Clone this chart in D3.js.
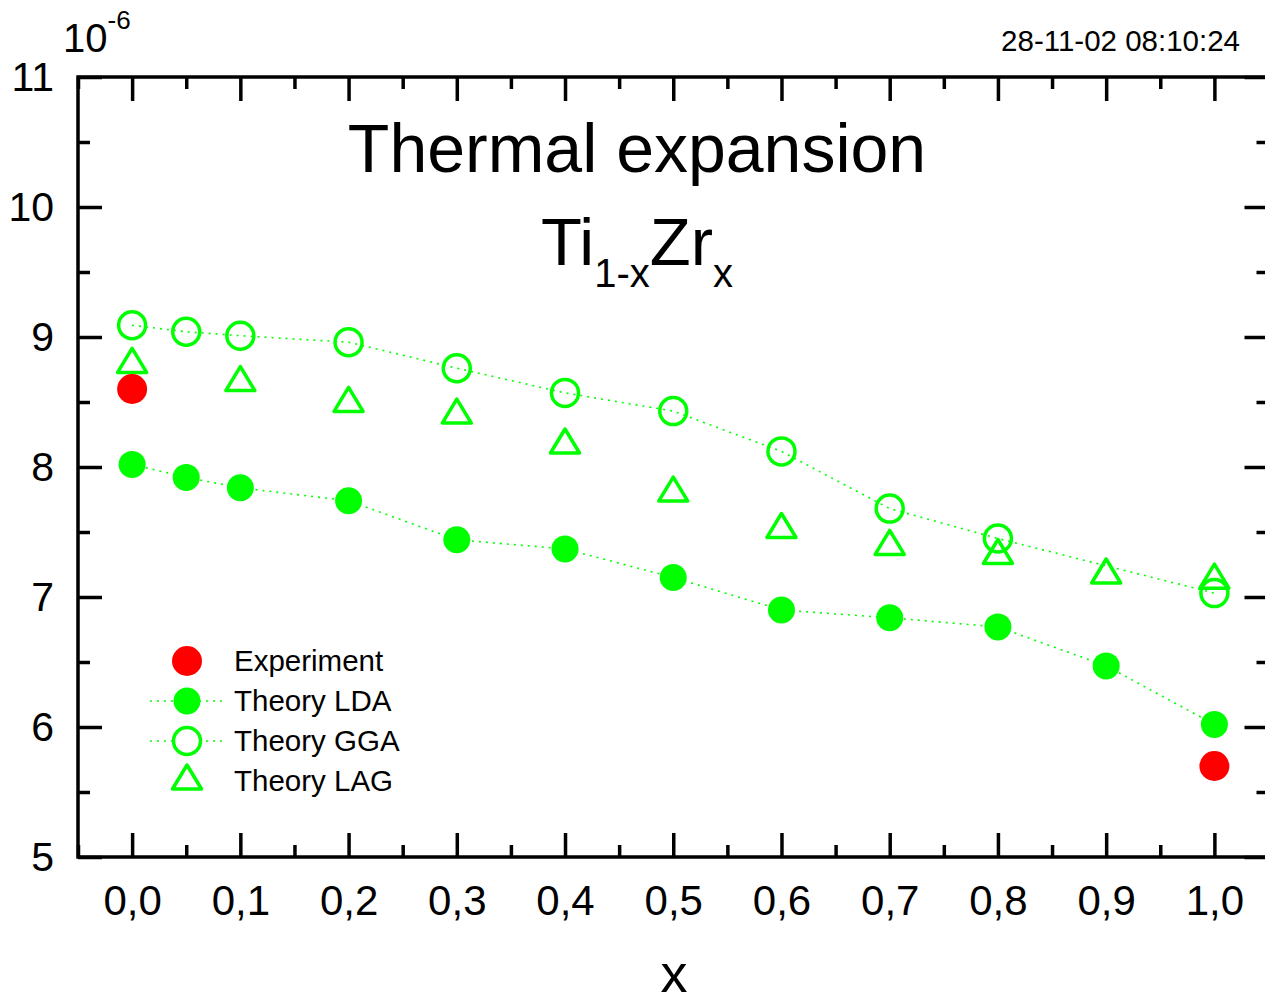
<!DOCTYPE html>
<html><head><meta charset="utf-8">
<script src="https://cdn.jsdelivr.net/npm/d3@7"></script>
<style>body{margin:0;background:#fff}svg{display:block;font-family:"Liberation Sans",Arial,sans-serif}</style>
</head><body><svg id="c" width="1265" height="1006"></svg>
<script>
const xTicks = [0,0.1,0.2,0.3,0.4,0.5,0.6,0.7,0.8,0.9,1.0];
const yTicks = [5,6,7,8,9,10,11];
const xLDA = [0,0.05,0.1,0.2,0.3,0.4,0.5,0.6,0.7,0.8,0.9,1.0];
const lda  = [8.02,7.92,7.84,7.74,7.44,7.37,7.15,6.90,6.84,6.77,6.47,6.02];
const xGGA = [0,0.05,0.1,0.2,0.3,0.4,0.5,0.6,0.7,0.8,1.0];
const gga  = [9.09,9.04,9.01,8.96,8.76,8.57,8.43,8.12,7.68,7.45,7.03];
const xLAG = [0,0.1,0.2,0.3,0.4,0.5,0.6,0.7,0.8,0.9,1.0];
const lag  = [8.82,8.68,8.52,8.43,8.20,7.83,7.55,7.42,7.35,7.20,7.16];
const xExp = [0,1.0];
const expv = [8.60,5.70];
const legendLabels = ["Experiment","Theory LDA","Theory GGA","Theory LAG"];

const GREEN = "#00ff00", RED = "#ff0000";
const svg = d3.select("#c");
const L = 78, R = 1268.5, T = 77, B = 857;
const x = d3.scaleLinear().domain([-0.05,1.05]).range([L,R]);
const y = d3.scaleLinear().domain([5,11]).range([B,T]);

const xMinor = d3.range(-0.05,1.06,0.05).filter(v=>Math.abs(Math.round(v*10)-v*10)>0.01);
const yMinor = d3.range(5.5,11,1);
const fmtX = d => d3.format(".1f")(d).replace(".",",");

function styleAxis(g){ g.select(".domain").remove(); g.selectAll("line").attr("stroke","#000").attr("stroke-width",3.5); g.selectAll("text").attr("fill","#000"); }

svg.append("g").attr("transform",`translate(0,${B})`)
  .call(d3.axisBottom(x).tickValues(xTicks).tickSize(-24).tickSizeOuter(0).tickPadding(28).tickFormat(fmtX))
  .call(styleAxis).selectAll("text").attr("font-size",42).attr("font-family","Liberation Sans, Arial, sans-serif");
svg.append("g").attr("transform",`translate(0,${B})`)
  .call(d3.axisBottom(x).tickValues(xMinor).tickSize(-12).tickSizeOuter(0).tickFormat(""))
  .call(styleAxis);
svg.append("g").attr("transform",`translate(0,${T})`)
  .call(d3.axisTop(x).tickValues(xTicks).tickSize(-24).tickSizeOuter(0).tickFormat(""))
  .call(styleAxis);
svg.append("g").attr("transform",`translate(0,${T})`)
  .call(d3.axisTop(x).tickValues(xMinor).tickSize(-12).tickSizeOuter(0).tickFormat(""))
  .call(styleAxis);
svg.append("g").attr("transform",`translate(${L},0)`)
  .call(d3.axisLeft(y).tickValues(yTicks).tickSize(-24).tickSizeOuter(0).tickPadding(24).tickFormat(d3.format("d")))
  .call(styleAxis).selectAll("text").attr("font-size",41).attr("font-family","Liberation Sans, Arial, sans-serif");
svg.append("g").attr("transform",`translate(${L},0)`)
  .call(d3.axisLeft(y).tickValues(yMinor).tickSize(-12).tickSizeOuter(0).tickFormat(""))
  .call(styleAxis);
svg.append("g").attr("transform",`translate(${R},0)`)
  .call(d3.axisRight(y).tickValues(yTicks).tickSize(-24).tickSizeOuter(0).tickFormat(""))
  .call(styleAxis);
svg.append("g").attr("transform",`translate(${R},0)`)
  .call(d3.axisRight(y).tickValues(yMinor).tickSize(-12).tickSizeOuter(0).tickFormat(""))
  .call(styleAxis);

svg.append("rect").attr("x",L).attr("y",T).attr("width",R-L).attr("height",B-T)
  .attr("fill","none").attr("stroke","#000").attr("stroke-width",3.5);

// dotted connecting lines
const line = d3.line().x(d=>x(d[0])).y(d=>y(d[1]));
[[xLDA,lda],[xGGA,gga]].forEach(([xs,vs])=>{
  svg.append("path").datum(xs.map((v,i)=>[v,vs[i]])).attr("d",line)
    .attr("fill","none").attr("stroke",GREEN).attr("stroke-width",1.6).attr("stroke-dasharray","2,5");
});

const triPath = "M0,-12L14.5,12L-14.5,12Z";
// GGA open circles
svg.append("g").selectAll("circle").data(xGGA.map((v,i)=>[v,gga[i]])).join("circle")
  .attr("cx",d=>x(d[0])).attr("cy",d=>y(d[1])).attr("r",13.5)
  .attr("fill","none").attr("stroke",GREEN).attr("stroke-width",3.5);
// LAG triangles
svg.append("g").selectAll("path").data(xLAG.map((v,i)=>[v,lag[i]])).join("path")
  .attr("transform",d=>`translate(${x(d[0])},${y(d[1])})`).attr("d",triPath)
  .attr("fill","none").attr("stroke",GREEN).attr("stroke-width",3.5).attr("stroke-linejoin","round");
// LDA filled
svg.append("g").selectAll("circle").data(xLDA.map((v,i)=>[v,lda[i]])).join("circle")
  .attr("cx",d=>x(d[0])).attr("cy",d=>y(d[1])).attr("r",13.5).attr("fill",GREEN);
// Experiment
svg.append("g").selectAll("circle").data(xExp.map((v,i)=>[v,expv[i]])).join("circle")
  .attr("cx",d=>x(d[0])).attr("cy",d=>y(d[1])).attr("r",15).attr("fill",RED);

// legend
const lg = svg.append("g");
const rowY = i => 661 + i*40;
legendLabels.forEach((t,i)=>{
  const cy = rowY(i);
  if(i===1||i===2) lg.append("line").attr("x1",150).attr("x2",226).attr("y1",cy).attr("y2",cy)
     .attr("stroke",GREEN).attr("stroke-width",1.6).attr("stroke-dasharray","2,5");
  if(i===0) lg.append("circle").attr("cx",187).attr("cy",cy).attr("r",15).attr("fill",RED);
  if(i===1) lg.append("circle").attr("cx",187).attr("cy",cy).attr("r",13.5).attr("fill",GREEN);
  if(i===2) lg.append("circle").attr("cx",187).attr("cy",cy).attr("r",13.5).attr("fill","#fff").attr("stroke",GREEN).attr("stroke-width",3.5);
  if(i===3) lg.append("path").attr("transform",`translate(187,${cy-4})`).attr("d",triPath).attr("fill","none").attr("stroke",GREEN).attr("stroke-width",3.5).attr("stroke-linejoin","round");
  lg.append("text").attr("x",234).attr("y",cy+10).attr("font-size",29.5).text(t);
});

// titles
svg.append("text").attr("x",637).attr("y",172).attr("text-anchor","middle").attr("font-size",68).text("Thermal expansion");
const t2 = svg.append("text").attr("x",637).attr("y",265).attr("text-anchor","middle").attr("font-size",67);
t2.append("tspan").text("Ti");
t2.append("tspan").attr("font-size",40).attr("dy",22).text("1-x");
t2.append("tspan").attr("dy",-22).text("Zr");
t2.append("tspan").attr("font-size",40).attr("dy",22).text("x");

const t3 = svg.append("text").attr("x",63).attr("y",52).attr("font-size",40);
t3.append("tspan").text("10");
t3.append("tspan").attr("font-size",26).attr("dy",-23).text("-6");

svg.append("text").attr("x",1240).attr("y",51).attr("text-anchor","end").attr("font-size",29.5).text("28-11-02 08:10:24");
svg.append("text").attr("x",674).attr("y",992).attr("text-anchor","middle").attr("font-size",54).text("x");
</script></body></html>
